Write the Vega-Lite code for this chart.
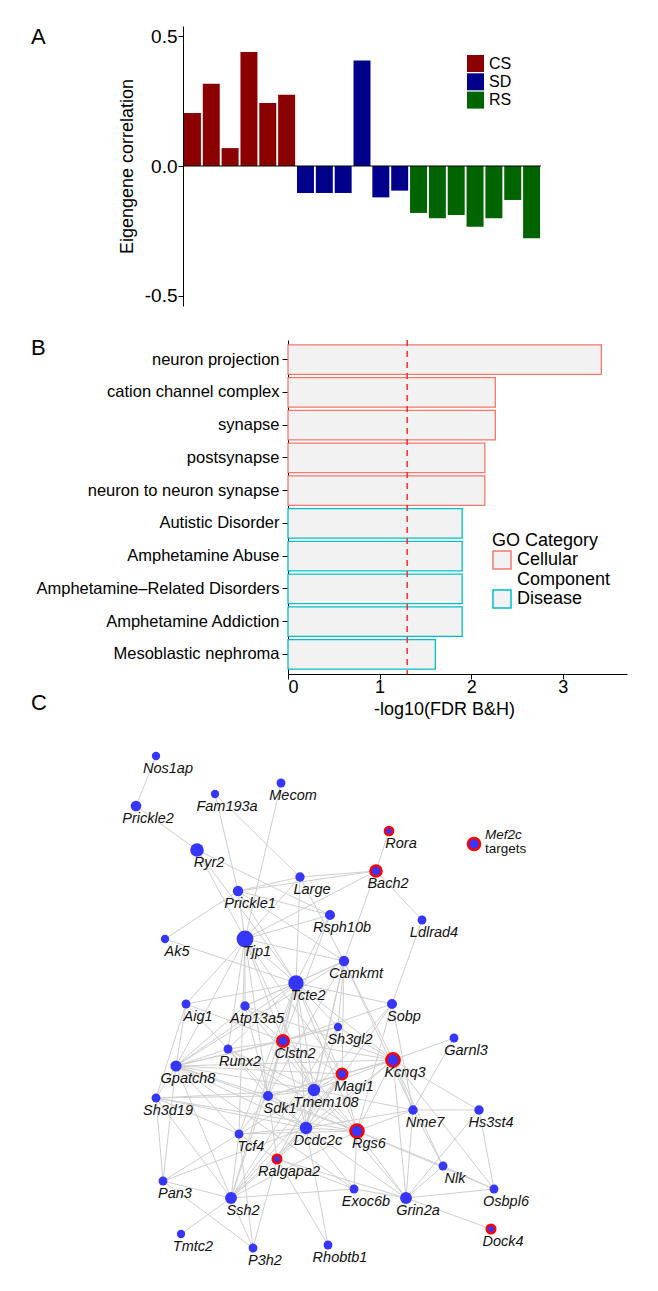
{
  "$schema": "https://vega.github.io/schema/vega-lite/v6.json",
  "background": "white",
  "padding": {"left": 30, "top": 25, "right": 5, "bottom": 5},
  "datasets": {
    "eigengene": [
      {"i": 1, "group": "CS", "cor": 0.204}, {"i": 2, "group": "CS", "cor": 0.317}, {"i": 3, "group": "CS", "cor": 0.069},
      {"i": 4, "group": "CS", "cor": 0.44}, {"i": 5, "group": "CS", "cor": 0.243}, {"i": 6, "group": "CS", "cor": 0.275},
      {"i": 7, "group": "SD", "cor": -0.104}, {"i": 8, "group": "SD", "cor": -0.104}, {"i": 9, "group": "SD", "cor": -0.104},
      {"i": 10, "group": "SD", "cor": 0.407}, {"i": 11, "group": "SD", "cor": -0.121}, {"i": 12, "group": "SD", "cor": -0.095},
      {"i": 13, "group": "RS", "cor": -0.181}, {"i": 14, "group": "RS", "cor": -0.202}, {"i": 15, "group": "RS", "cor": -0.189},
      {"i": 16, "group": "RS", "cor": -0.234}, {"i": 17, "group": "RS", "cor": -0.202}, {"i": 18, "group": "RS", "cor": -0.131},
      {"i": 19, "group": "RS", "cor": -0.279}
    ],
    "go": [
      {"term": "neuron projection", "score": 3.42, "category": "Cellular Component"},
      {"term": "cation channel complex", "score": 2.263, "category": "Cellular Component"},
      {"term": "synapse", "score": 2.263, "category": "Cellular Component"},
      {"term": "postsynapse", "score": 2.148, "category": "Cellular Component"},
      {"term": "neuron to neuron synapse", "score": 2.148, "category": "Cellular Component"},
      {"term": "Autistic Disorder", "score": 1.901, "category": "Disease"},
      {"term": "Amphetamine Abuse", "score": 1.901, "category": "Disease"},
      {"term": "Amphetamine–Related Disorders", "score": 1.901, "category": "Disease"},
      {"term": "Amphetamine Addiction", "score": 1.901, "category": "Disease"},
      {"term": "Mesoblastic nephroma", "score": 1.608, "category": "Disease"}
    ],
    "nodes": [
      {"gene": "Nos1ap", "x": 9, "y": 126.25, "k": 22, "target": false},
      {"gene": "Prickle2", "x": 4, "y": 113.75, "k": 36, "target": false},
      {"gene": "Fam193a", "x": 23.75, "y": 116.75, "k": 22, "target": false},
      {"gene": "Mecom", "x": 40.25, "y": 119.5, "k": 25, "target": false},
      {"gene": "Ryr2", "x": 19.25, "y": 102.75, "k": 59, "target": false},
      {"gene": "Rora", "x": 67.25, "y": 107.5, "k": 21, "target": true},
      {"gene": "Bach2", "x": 64, "y": 97.5, "k": 39, "target": true},
      {"gene": "Large", "x": 45, "y": 96, "k": 28, "target": false},
      {"gene": "Prickle1", "x": 29.5, "y": 92.5, "k": 34, "target": false},
      {"gene": "Rsph10b", "x": 52.5, "y": 86.5, "k": 32, "target": false},
      {"gene": "Ldlrad4", "x": 75.5, "y": 85.25, "k": 25, "target": false},
      {"gene": "Ak5", "x": 11.25, "y": 80.5, "k": 22, "target": false},
      {"gene": "Tjp1", "x": 31.25, "y": 80.5, "k": 90, "target": false},
      {"gene": "Camkmt", "x": 56, "y": 75, "k": 34, "target": false},
      {"gene": "Tcte2", "x": 44, "y": 69.5, "k": 76, "target": false},
      {"gene": "Aig1", "x": 16.5, "y": 64.25, "k": 25, "target": false},
      {"gene": "Atp13a5", "x": 31.25, "y": 63.75, "k": 28, "target": false},
      {"gene": "Sobp", "x": 68, "y": 64.25, "k": 32, "target": false},
      {"gene": "Sh3gl2", "x": 54.5, "y": 58.5, "k": 22, "target": false},
      {"gene": "Clstn2", "x": 40.75, "y": 55, "k": 43, "target": true},
      {"gene": "Garnl3", "x": 83.5, "y": 55.75, "k": 25, "target": false},
      {"gene": "Runx2", "x": 27, "y": 53, "k": 25, "target": false},
      {"gene": "Kcnq3", "x": 68.25, "y": 50.25, "k": 57, "target": true},
      {"gene": "Gpatch8", "x": 14, "y": 48.75, "k": 40, "target": false},
      {"gene": "Magi1", "x": 55.5, "y": 46.75, "k": 35, "target": true},
      {"gene": "Tmem108", "x": 48.5, "y": 42.75, "k": 49, "target": false},
      {"gene": "Sdk1", "x": 37, "y": 41.25, "k": 32, "target": false},
      {"gene": "Sh3d19", "x": 9, "y": 40.75, "k": 25, "target": false},
      {"gene": "Nme7", "x": 73.25, "y": 37.75, "k": 28, "target": false},
      {"gene": "Hs3st4", "x": 89.75, "y": 37.75, "k": 28, "target": false},
      {"gene": "Dcdc2c", "x": 46.5, "y": 33.25, "k": 49, "target": false},
      {"gene": "Rgs6", "x": 59.25, "y": 32.5, "k": 55, "target": true},
      {"gene": "Tcf4", "x": 29.75, "y": 31.75, "k": 25, "target": false},
      {"gene": "Ralgapa2", "x": 39.25, "y": 25.5, "k": 23, "target": true},
      {"gene": "Nlk", "x": 80.75, "y": 23.75, "k": 25, "target": false},
      {"gene": "Pan3", "x": 10.75, "y": 20, "k": 25, "target": false},
      {"gene": "Ssh2", "x": 27.75, "y": 15.75, "k": 45, "target": false},
      {"gene": "Exoc6b", "x": 58.5, "y": 18, "k": 25, "target": false},
      {"gene": "Grin2a", "x": 71.5, "y": 15.75, "k": 45, "target": false},
      {"gene": "Osbpl6", "x": 93.5, "y": 18, "k": 25, "target": false},
      {"gene": "Dock4", "x": 92.75, "y": 8, "k": 23, "target": true},
      {"gene": "Tmtc2", "x": 15.25, "y": 6.75, "k": 22, "target": false},
      {"gene": "P3h2", "x": 33.25, "y": 3.25, "k": 25, "target": false},
      {"gene": "Rhobtb1", "x": 52, "y": 4, "k": 25, "target": false}
    ],
    "key": [
      {"gene": "Mef2c", "note": "targets", "x": 88.5, "y": 104.25, "k": 46, "target": true}
    ],
    "edges": [
      {"source": "Nos1ap", "target": "Prickle2"}, {"source": "Prickle2", "target": "Ryr2"}, {"source": "Ryr2", "target": "Tjp1"},
      {"source": "Ryr2", "target": "Rsph10b"}, {"source": "Ryr2", "target": "Tcte2"}, {"source": "Fam193a", "target": "Prickle1"},
      {"source": "Fam193a", "target": "Large"}, {"source": "Mecom", "target": "Tjp1"}, {"source": "Rora", "target": "Bach2"},
      {"source": "Bach2", "target": "Large"}, {"source": "Bach2", "target": "Prickle1"}, {"source": "Bach2", "target": "Tjp1"},
      {"source": "Bach2", "target": "Ldlrad4"}, {"source": "Bach2", "target": "Camkmt"}, {"source": "Ldlrad4", "target": "Sobp"},
      {"source": "Ak5", "target": "Prickle1"}, {"source": "Ak5", "target": "Tcte2"}, {"source": "Large", "target": "Prickle1"},
      {"source": "Large", "target": "Tjp1"}, {"source": "Large", "target": "Tcte2"}, {"source": "Large", "target": "Camkmt"},
      {"source": "Prickle1", "target": "Tjp1"}, {"source": "Prickle1", "target": "Rsph10b"}, {"source": "Prickle1", "target": "Tcte2"},
      {"source": "Prickle1", "target": "Camkmt"}, {"source": "Rsph10b", "target": "Tjp1"}, {"source": "Rsph10b", "target": "Tcte2"},
      {"source": "Rsph10b", "target": "Clstn2"}, {"source": "Tjp1", "target": "Tcte2"}, {"source": "Tjp1", "target": "Camkmt"},
      {"source": "Tjp1", "target": "Aig1"}, {"source": "Tjp1", "target": "Gpatch8"}, {"source": "Tjp1", "target": "Atp13a5"},
      {"source": "Tjp1", "target": "Runx2"}, {"source": "Tjp1", "target": "Sdk1"}, {"source": "Tjp1", "target": "Clstn2"},
      {"source": "Tjp1", "target": "Tcf4"}, {"source": "Tjp1", "target": "Tmem108"}, {"source": "Tjp1", "target": "Magi1"},
      {"source": "Camkmt", "target": "Tcte2"}, {"source": "Camkmt", "target": "Atp13a5"}, {"source": "Camkmt", "target": "Gpatch8"},
      {"source": "Camkmt", "target": "Sh3gl2"}, {"source": "Camkmt", "target": "Magi1"}, {"source": "Camkmt", "target": "Tmem108"},
      {"source": "Camkmt", "target": "Kcnq3"}, {"source": "Camkmt", "target": "Dcdc2c"}, {"source": "Camkmt", "target": "Nme7"},
      {"source": "Camkmt", "target": "Sdk1"}, {"source": "Tcte2", "target": "Aig1"}, {"source": "Tcte2", "target": "Gpatch8"},
      {"source": "Tcte2", "target": "Atp13a5"}, {"source": "Tcte2", "target": "Runx2"}, {"source": "Tcte2", "target": "Clstn2"},
      {"source": "Tcte2", "target": "Sh3gl2"}, {"source": "Tcte2", "target": "Kcnq3"}, {"source": "Tcte2", "target": "Magi1"},
      {"source": "Tcte2", "target": "Tmem108"}, {"source": "Tcte2", "target": "Dcdc2c"}, {"source": "Tcte2", "target": "Sdk1"},
      {"source": "Tcte2", "target": "Sobp"}, {"source": "Tcte2", "target": "Rgs6"}, {"source": "Tcte2", "target": "Tcf4"},
      {"source": "Tcte2", "target": "Ssh2"}, {"source": "Aig1", "target": "Gpatch8"}, {"source": "Aig1", "target": "Runx2"},
      {"source": "Aig1", "target": "Sh3d19"}, {"source": "Aig1", "target": "Clstn2"}, {"source": "Atp13a5", "target": "Gpatch8"},
      {"source": "Atp13a5", "target": "Clstn2"}, {"source": "Atp13a5", "target": "Sdk1"}, {"source": "Atp13a5", "target": "Kcnq3"},
      {"source": "Atp13a5", "target": "Tmem108"}, {"source": "Sobp", "target": "Dcdc2c"}, {"source": "Sobp", "target": "Tmem108"},
      {"source": "Sobp", "target": "Nme7"}, {"source": "Sobp", "target": "Clstn2"}, {"source": "Sobp", "target": "Rgs6"},
      {"source": "Sh3gl2", "target": "Clstn2"}, {"source": "Sh3gl2", "target": "Kcnq3"}, {"source": "Sh3gl2", "target": "Gpatch8"},
      {"source": "Sh3gl2", "target": "Dcdc2c"}, {"source": "Sh3gl2", "target": "Ssh2"}, {"source": "Clstn2", "target": "Runx2"},
      {"source": "Clstn2", "target": "Gpatch8"}, {"source": "Clstn2", "target": "Kcnq3"}, {"source": "Clstn2", "target": "Magi1"},
      {"source": "Clstn2", "target": "Tmem108"}, {"source": "Clstn2", "target": "Dcdc2c"}, {"source": "Clstn2", "target": "Rgs6"},
      {"source": "Clstn2", "target": "Sdk1"}, {"source": "Clstn2", "target": "Ssh2"}, {"source": "Garnl3", "target": "Kcnq3"},
      {"source": "Garnl3", "target": "Nme7"}, {"source": "Runx2", "target": "Gpatch8"}, {"source": "Runx2", "target": "Sdk1"},
      {"source": "Runx2", "target": "Dcdc2c"}, {"source": "Runx2", "target": "Rgs6"}, {"source": "Runx2", "target": "Tmem108"},
      {"source": "Kcnq3", "target": "Magi1"}, {"source": "Kcnq3", "target": "Tmem108"}, {"source": "Kcnq3", "target": "Dcdc2c"},
      {"source": "Kcnq3", "target": "Rgs6"}, {"source": "Kcnq3", "target": "Nme7"}, {"source": "Kcnq3", "target": "Hs3st4"},
      {"source": "Kcnq3", "target": "Grin2a"}, {"source": "Kcnq3", "target": "Nlk"}, {"source": "Kcnq3", "target": "Osbpl6"},
      {"source": "Kcnq3", "target": "Gpatch8"}, {"source": "Kcnq3", "target": "Ralgapa2"}, {"source": "Kcnq3", "target": "Sdk1"},
      {"source": "Gpatch8", "target": "Sh3d19"}, {"source": "Gpatch8", "target": "Sdk1"}, {"source": "Gpatch8", "target": "Magi1"},
      {"source": "Gpatch8", "target": "Tmem108"}, {"source": "Gpatch8", "target": "Dcdc2c"}, {"source": "Gpatch8", "target": "Rgs6"},
      {"source": "Gpatch8", "target": "Tcf4"}, {"source": "Gpatch8", "target": "Pan3"}, {"source": "Gpatch8", "target": "Ssh2"},
      {"source": "Gpatch8", "target": "Exoc6b"}, {"source": "Magi1", "target": "Tmem108"}, {"source": "Magi1", "target": "Dcdc2c"},
      {"source": "Magi1", "target": "Ralgapa2"}, {"source": "Magi1", "target": "Ssh2"}, {"source": "Magi1", "target": "Sdk1"},
      {"source": "Magi1", "target": "Rgs6"}, {"source": "Tmem108", "target": "Dcdc2c"}, {"source": "Tmem108", "target": "Sdk1"},
      {"source": "Tmem108", "target": "Rgs6"}, {"source": "Tmem108", "target": "Tcf4"}, {"source": "Tmem108", "target": "Ralgapa2"},
      {"source": "Tmem108", "target": "Ssh2"}, {"source": "Tmem108", "target": "Grin2a"}, {"source": "Tmem108", "target": "Nme7"},
      {"source": "Tmem108", "target": "Sh3d19"}, {"source": "Sdk1", "target": "Dcdc2c"}, {"source": "Sdk1", "target": "Sh3d19"},
      {"source": "Sdk1", "target": "Tcf4"}, {"source": "Sdk1", "target": "Ralgapa2"}, {"source": "Sdk1", "target": "Rgs6"},
      {"source": "Sh3d19", "target": "Pan3"}, {"source": "Sh3d19", "target": "Ssh2"}, {"source": "Sh3d19", "target": "Rgs6"},
      {"source": "Sh3d19", "target": "Dcdc2c"}, {"source": "Sh3d19", "target": "Tcf4"}, {"source": "Nme7", "target": "Rgs6"},
      {"source": "Nme7", "target": "Grin2a"}, {"source": "Nme7", "target": "Hs3st4"}, {"source": "Nme7", "target": "Dcdc2c"},
      {"source": "Nme7", "target": "Nlk"}, {"source": "Hs3st4", "target": "Osbpl6"}, {"source": "Hs3st4", "target": "Grin2a"},
      {"source": "Dcdc2c", "target": "Rgs6"}, {"source": "Dcdc2c", "target": "Tcf4"}, {"source": "Dcdc2c", "target": "Ralgapa2"},
      {"source": "Dcdc2c", "target": "Ssh2"}, {"source": "Dcdc2c", "target": "Exoc6b"}, {"source": "Dcdc2c", "target": "Grin2a"},
      {"source": "Dcdc2c", "target": "Rhobtb1"}, {"source": "Dcdc2c", "target": "Pan3"}, {"source": "Rgs6", "target": "Nlk"},
      {"source": "Rgs6", "target": "Exoc6b"}, {"source": "Rgs6", "target": "Grin2a"}, {"source": "Rgs6", "target": "Tcf4"},
      {"source": "Rgs6", "target": "Ssh2"}, {"source": "Rgs6", "target": "Osbpl6"}, {"source": "Tcf4", "target": "Ralgapa2"},
      {"source": "Tcf4", "target": "Ssh2"}, {"source": "Tcf4", "target": "Pan3"}, {"source": "Tcf4", "target": "P3h2"},
      {"source": "Ralgapa2", "target": "Ssh2"}, {"source": "Ralgapa2", "target": "P3h2"}, {"source": "Ralgapa2", "target": "Exoc6b"},
      {"source": "Ralgapa2", "target": "Rhobtb1"}, {"source": "Ralgapa2", "target": "Grin2a"}, {"source": "Nlk", "target": "Osbpl6"},
      {"source": "Nlk", "target": "Grin2a"}, {"source": "Pan3", "target": "Ssh2"}, {"source": "Pan3", "target": "P3h2"},
      {"source": "Ssh2", "target": "P3h2"}, {"source": "Ssh2", "target": "Tmtc2"}, {"source": "Ssh2", "target": "Exoc6b"},
      {"source": "Exoc6b", "target": "Grin2a"}, {"source": "Grin2a", "target": "Osbpl6"}, {"source": "Grin2a", "target": "Dock4"}
    ]
  },
  "spacing": -40,
  "vconcat": [
    {
      "spacing": 30,
      "vconcat": [
        {
          "spacing": 0,
          "hconcat": [
            {"width": 1, "height": 1, "data": {"values": []}, "mark": {"type": "point"}},
            {
              "width": 358,
              "height": 280,
              "title": {"text": "A", "dx": -152, "dy": 26.7},
              "layer": [
                {
                  "data": {"name": "eigengene"},
                  "mark": {"type": "bar"},
                  "encoding": {
                    "x": {"field": "i", "type": "ordinal", "axis": null, "scale": {"paddingInner": 0.1, "paddingOuter": 0.05}},
                    "y": {
                      "field": "cor", "type": "quantitative",
                      "scale": {"domain": [-0.54, 0.54], "nice": false},
                      "axis": {
                        "title": "Eigengene correlation", "values": [-0.5, 0, 0.5],
                        "labelExpr": "replace(format(datum.value, '.1f'), '\u2212', '-')",
                        "labelFontSize": 19, "titleFontSize": 18, "tickSize": 5, "labelPadding": 1, "titlePadding": 8
                      }
                    },
                    "color": {
                      "field": "group", "type": "nominal",
                      "scale": {"domain": ["CS", "SD", "RS"], "range": ["#8B0000", "#00008B", "#006400"]},
                      "legend": {
                        "title": null, "orient": "none", "legendX": 437, "legendY": 29,
                        "symbolType": "square", "symbolSize": 289, "symbolStrokeWidth": 0,
                        "labelFontSize": 16, "labelOffset": 5, "rowPadding": 1.3
                      }
                    }
                  }
                },
                {
                  "data": {"values": [{"ref": 0}]},
                  "mark": {"type": "rule", "color": "#000000", "strokeWidth": 1},
                  "encoding": {"y": {"field": "ref", "type": "quantitative"}}
                }
              ]
            }
          ]
        },
        {
          "spacing": 0,
          "hconcat": [
            {"width": 1, "height": 1, "data": {"values": []}, "mark": {"type": "point"}},
            {
              "width": 339,
              "height": 334,
              "title": {"text": "B", "dx": -257, "dy": 24.4},
              "layer": [
                {
                  "data": {"name": "go"},
                  "mark": {"type": "bar", "fill": "#F2F2F2", "strokeWidth": 1.3},
                  "encoding": {
                    "y": {
                      "field": "term", "type": "nominal", "sort": null,
                      "scale": {"paddingInner": 0.1, "paddingOuter": 0.15},
                      "axis": {"title": null, "labelFontSize": 16.5, "tickSize": 6, "labelPadding": 3, "labelLimit": 400}
                    },
                    "x": {
                      "field": "score", "type": "quantitative",
                      "scale": {"domain": [0, 3.7], "nice": false},
                      "axis": {
                        "title": "-log10(FDR B&H)", "values": [0, 1, 2, 3], "format": "d",
                        "labelFontSize": 18, "titleFontSize": 18, "tickSize": 5, "labelPadding": -1,
                        "titleX": 156, "titleBaseline": "alphabetic", "titleY": 40
                      }
                    },
                    "stroke": {
                      "field": "category", "type": "nominal",
                      "scale": {"domain": ["Cellular Component", "Disease"], "range": ["#F8766D", "#00BFC4"]},
                      "legend": {
                        "title": "GO Category", "orient": "none", "legendX": 462, "legendY": 506,
                        "titleFontSize": 18, "titleFontWeight": "normal", "labelFontSize": 18,
                        "symbolType": "square", "symbolSize": 324, "symbolFillColor": "#F2F2F2", "symbolStrokeWidth": 1.5,
                        "labelExpr": "datum.label == 'Cellular Component' ? ['Cellular', 'Component'] : datum.label",
                        "labelOffset": 5, "titlePadding": 0, "rowPadding": -4
                      }
                    }
                  }
                },
                {
                  "data": {"values": [{"threshold": 1.30103}]},
                  "mark": {"type": "rule", "color": "#FF2A2A", "strokeDash": [6, 5], "strokeWidth": 1.5},
                  "encoding": {"x": {"field": "threshold", "type": "quantitative", "scale": {"domain": [0, 3.7], "nice": false}}}
                }
              ]
            }
          ]
        }
      ]
    },
    {
      "spacing": 0,
      "hconcat": [
        {"width": 1, "height": 1, "data": {"values": []}, "mark": {"type": "point"}},
        {
          "width": 400,
          "height": 543,
          "title": {"text": "C", "dx": -89, "dy": 1},
          "layer": [
            {
              "data": {"name": "edges"},
              "transform": [
                {"lookup": "source", "from": {"data": {"name": "nodes"}, "key": "gene", "fields": ["x", "y"]}, "as": ["sx", "sy"]},
                {"lookup": "target", "from": {"data": {"name": "nodes"}, "key": "gene", "fields": ["x", "y"]}, "as": ["tx", "ty"]}
              ],
              "mark": {"type": "rule", "color": "#CFCFCF", "strokeWidth": 1},
              "encoding": {
                "x": {"field": "sx", "type": "quantitative", "scale": {"domain": [0, 100], "nice": false, "zero": false}, "axis": null},
                "y": {"field": "sy", "type": "quantitative", "scale": {"domain": [0, 135.75], "nice": false, "zero": false}, "axis": null},
                "x2": {"field": "tx"},
                "y2": {"field": "ty"}
              }
            },
            {
              "data": {"name": "nodes"},
              "mark": {"type": "point", "filled": true, "opacity": 1, "color": "#3636FF"},
              "encoding": {
                "x": {"field": "x", "type": "quantitative", "scale": {"domain": [0, 100], "nice": false, "zero": false}, "axis": null},
                "y": {"field": "y", "type": "quantitative", "scale": {"domain": [0, 135.75], "nice": false, "zero": false}, "axis": null},
                "size": {"field": "k", "type": "quantitative", "scale": {"type": "linear", "domain": [0, 100], "range": [0, 314]}, "legend": null},
                "stroke": {"condition": {"test": "datum.target", "value": "#FF0000"}, "value": null},
                "strokeWidth": {"condition": {"test": "datum.target", "value": 2.5}, "value": 0}
              }
            },
            {
              "data": {"name": "nodes"},
              "mark": {"type": "text", "fontStyle": "italic", "fontSize": 14.5, "dx": 12, "dy": 12.5, "align": "center", "baseline": "middle", "color": "#111111"},
              "encoding": {
                "x": {"field": "x", "type": "quantitative", "scale": {"domain": [0, 100], "nice": false, "zero": false}, "axis": null},
                "y": {"field": "y", "type": "quantitative", "scale": {"domain": [0, 135.75], "nice": false, "zero": false}, "axis": null},
                "text": {"field": "gene"}
              }
            },
            {
              "data": {"name": "key"},
              "mark": {"type": "point", "filled": true, "opacity": 1, "color": "#3636FF", "stroke": "#FF0000", "strokeWidth": 2.5},
              "encoding": {
                "x": {"field": "x", "type": "quantitative", "scale": {"domain": [0, 100], "nice": false, "zero": false}, "axis": null},
                "y": {"field": "y", "type": "quantitative", "scale": {"domain": [0, 135.75], "nice": false, "zero": false}, "axis": null},
                "size": {"field": "k", "type": "quantitative", "scale": {"type": "linear", "domain": [0, 100], "range": [0, 314]}, "legend": null}
              }
            },
            {
              "data": {"name": "key"},
              "mark": {"type": "text", "fontStyle": "italic", "fontSize": 13.5, "dx": 11, "dy": -5, "align": "left", "baseline": "alphabetic", "color": "#111111"},
              "encoding": {
                "x": {"field": "x", "type": "quantitative", "scale": {"domain": [0, 100], "nice": false, "zero": false}, "axis": null},
                "y": {"field": "y", "type": "quantitative", "scale": {"domain": [0, 135.75], "nice": false, "zero": false}, "axis": null},
                "text": {"field": "gene"}
              }
            },
            {
              "data": {"name": "key"},
              "mark": {"type": "text", "fontSize": 13.5, "dx": 11, "dy": 9, "align": "left", "baseline": "alphabetic", "color": "#111111"},
              "encoding": {
                "x": {"field": "x", "type": "quantitative", "scale": {"domain": [0, 100], "nice": false, "zero": false}, "axis": null},
                "y": {"field": "y", "type": "quantitative", "scale": {"domain": [0, 135.75], "nice": false, "zero": false}, "axis": null},
                "text": {"field": "note"}
              }
            }
          ]
        }
      ]
    }
  ],
  "config": {
    "font": "Liberation Sans",
    "view": {"stroke": null},
    "axis": {"grid": false, "domainColor": "#000000", "tickColor": "#000000", "labelColor": "#000000", "titleColor": "#000000", "titleFontWeight": "normal", "domainWidth": 1, "tickWidth": 1},
    "legend": {"labelColor": "#000000", "titleColor": "#000000"},
    "title": {"fontSize": 22, "fontWeight": "normal", "anchor": "start", "frame": "group", "offset": 0, "baseline": "alphabetic", "color": "#000000"}
  }
}
